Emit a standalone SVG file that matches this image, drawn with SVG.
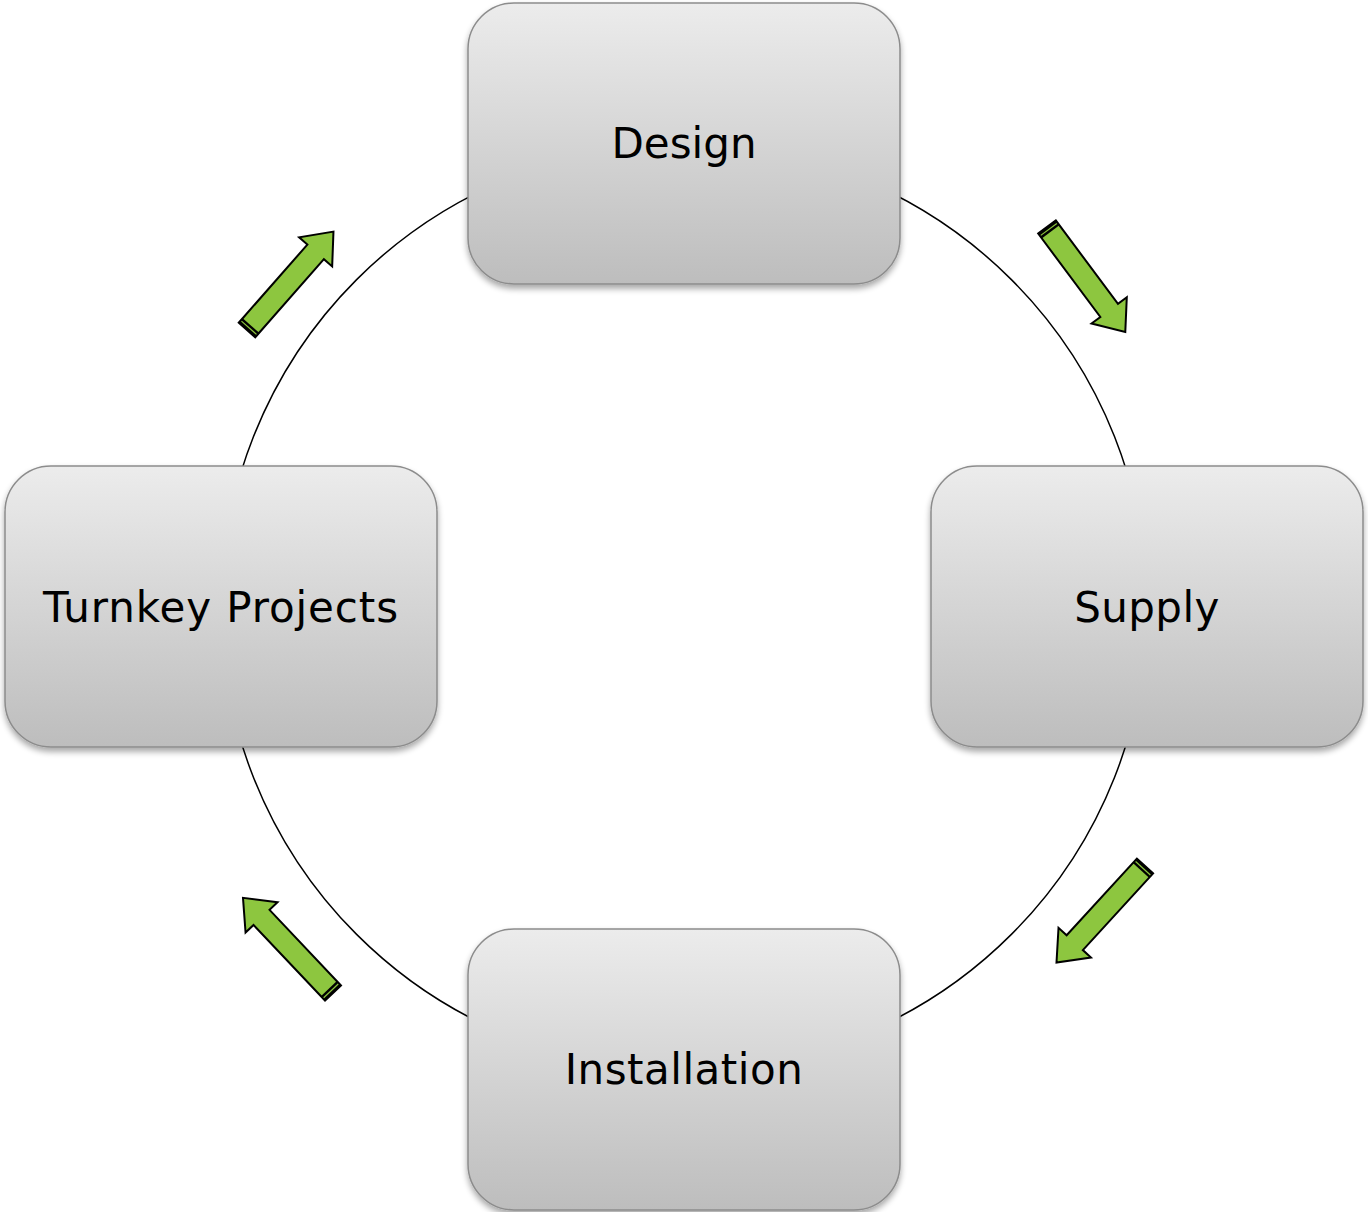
<svg xmlns="http://www.w3.org/2000/svg" width="1368" height="1212" viewBox="0 0 1368 1212">
<style>
.box{fill:url(#g);stroke:#8c8c8c;stroke-width:1.5;filter:url(#sh)}
.lbl{font-family:"DejaVu Sans",Verdana,sans-serif;font-size:42px;fill:#000;text-anchor:middle}
.arr{fill:#8dc63f;stroke:#000;stroke-width:2;stroke-linejoin:miter}
.ring{fill:none;stroke:#000;stroke-width:1.5}
</style>
<defs>
<linearGradient id="g" x1="0" y1="0" x2="0" y2="1">
<stop offset="0" stop-color="#ececec"/>
<stop offset="1" stop-color="#bdbdbd"/>
</linearGradient>
<filter id="sh" x="-10%" y="-10%" width="120%" height="130%">
<feGaussianBlur in="SourceAlpha" stdDeviation="3"/>
<feOffset dx="0" dy="4" result="b"/>
<feComponentTransfer><feFuncA type="linear" slope="0.35"/></feComponentTransfer>
<feMerge><feMergeNode/><feMergeNode in="SourceGraphic"/></feMerge>
</filter>
<g id="arrow">
<polygon class="arr" points="0,-11 104,-11 104,-22 131,0 104,22 104,11 0,11"/>
<rect x="0" y="-11" width="6" height="22" fill="#000"/>
<line x1="3" y1="-10" x2="3" y2="10" stroke="#8dc63f" stroke-width="1.2"/>
</g>
</defs>
<g id="connectors">
<circle class="ring" cx="684" cy="607" r="463"/>
<use href="#arrow" transform="translate(1047,227) rotate(53.3)"/>
<use href="#arrow" transform="translate(247,330) rotate(-48.7)"/>
<use href="#arrow" transform="translate(1145,866) rotate(132.5)"/>
<use href="#arrow" transform="translate(333,993) rotate(226.6)"/>
</g>
<g id="design">
<rect class="box" x="468" y="3" width="432" height="281" rx="46"/>
<text class="lbl" x="684" y="158">Design</text>
</g>
<g id="supply">
<rect class="box" x="931" y="466" width="432" height="281" rx="46"/>
<text class="lbl" x="1147" y="622" letter-spacing="0.4">Supply</text>
</g>
<g id="installation">
<rect class="box" x="468" y="929" width="432" height="281" rx="46"/>
<text class="lbl" x="684" y="1084" letter-spacing="0.5">Installation</text>
</g>
<g id="turnkey">
<rect class="box" x="5" y="466" width="432" height="281" rx="46"/>
<text class="lbl" x="221" y="622" letter-spacing="0.9">Turnkey Projects</text>
</g>
</svg>
